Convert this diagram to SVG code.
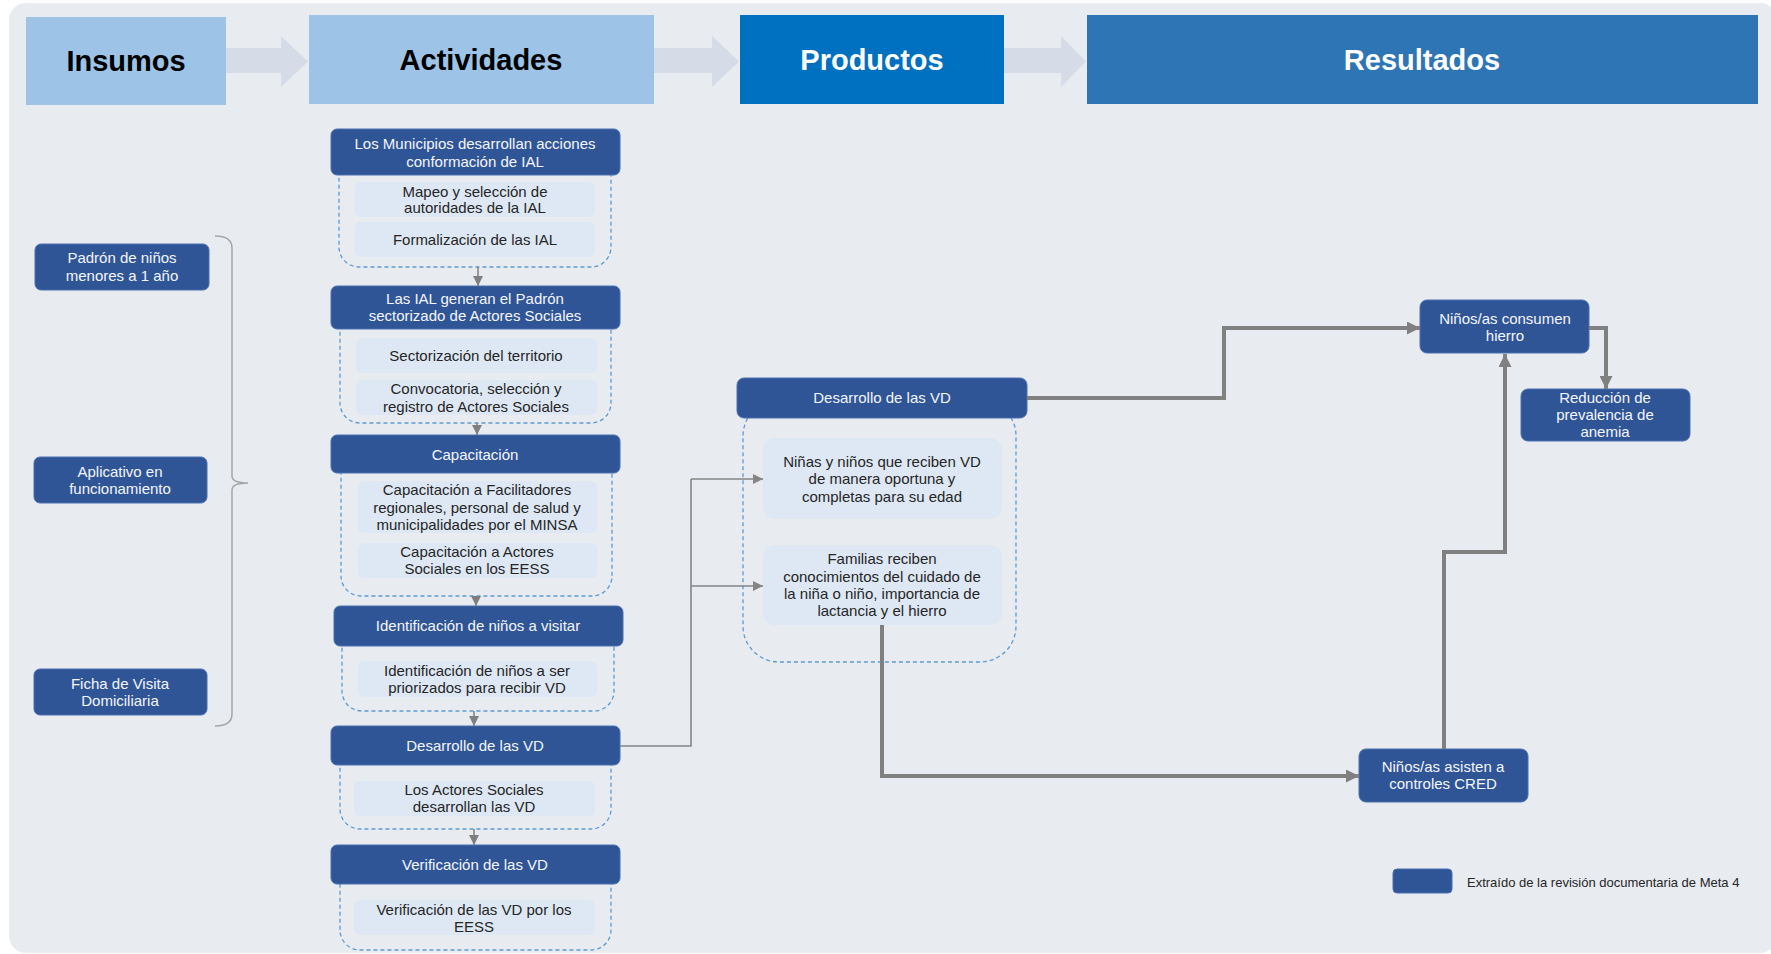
<svg xmlns="http://www.w3.org/2000/svg" width="1771" height="954" viewBox="0 0 1771 954">
  <style>
    text { font-family: "Liberation Sans", Arial, sans-serif; }
    .hdr { font-size: 29px; font-weight: bold; text-anchor: middle; }
    .node rect.box { fill: #2f5597; stroke: #4a70b0; stroke-width: 1; }
    .ntxt { font-size: 15px; fill: #f4f6fa; text-anchor: middle; }
    .sub { fill: #dde8f4; }
    .stxt { font-size: 15px; fill: #262626; text-anchor: middle; }
    .cont { fill: none; stroke: #5b9bd5; stroke-width: 1.3; stroke-dasharray: 4 3; }
    .thin { fill: none; stroke: #858585; stroke-width: 1.6; }
    .thick { fill: none; stroke: #808080; stroke-width: 4; }
    .blk { fill: #d5dce7; }
  </style>
  <defs>
    <marker id="ah" viewBox="0 0 10 10" refX="10" refY="5" markerWidth="10" markerHeight="10" markerUnits="userSpaceOnUse" orient="auto">
      <path d="M0,0 L10,5 L0,10 z" fill="#7f7f7f"/>
    </marker>
    <marker id="ahThin" viewBox="0 0 10 10" refX="10" refY="5" markerWidth="10" markerHeight="10" markerUnits="userSpaceOnUse" orient="auto">
      <path d="M0,0 L10,5 L0,10 z" fill="#858585"/>
    </marker>
    <marker id="ahThick" viewBox="0 0 10 10" refX="10" refY="5" markerWidth="13" markerHeight="13" markerUnits="userSpaceOnUse" orient="auto">
      <path d="M0,0 L10,5 L0,10 z" fill="#808080"/>
    </marker>
  </defs>

  <!-- canvas -->
  <rect x="0" y="0" width="1771" height="954" fill="#ffffff"/>
  <rect x="9" y="3" width="1768" height="950" rx="17" fill="#e8ebf0"/>

  <!-- column headers -->
  <g id="headers">
    <rect x="26" y="17" width="200" height="88" fill="#9dc3e6"/>
    <text class="hdr" x="126" y="71" fill="#000000">Insumos</text>
    <polygon class="blk" points="226,48 281,48 281,36 308,61.5 281,87 281,73 226,73"/>
    <rect x="309" y="15" width="345" height="89" fill="#9dc3e6"/>
    <text class="hdr" x="481" y="70" fill="#000000">Actividades</text>
    <polygon class="blk" points="654,48 712,48 712,36 739,61.5 712,87 712,73 654,73"/>
    <rect x="740" y="15" width="264" height="89" fill="#0070c0"/>
    <text class="hdr" x="872" y="70" fill="#ffffff">Productos</text>
    <polygon class="blk" points="1004,48 1061,48 1061,36 1086,61.5 1061,87 1061,73 1004,73"/>
    <rect x="1087" y="15" width="671" height="89" fill="#2e75b6"/>
    <text class="hdr" x="1422" y="70" fill="#ffffff">Resultados</text>
  </g>

  <!-- inputs -->
  <g id="in-padron" class="node">
    <rect class="box" x="35" y="244" width="174" height="46" rx="6"/>
    <text class="ntxt" x="122" y="263">Padrón de niños</text>
    <text class="ntxt" x="122" y="281">menores a 1 año</text>
  </g>
  <g id="in-aplicativo" class="node">
    <rect class="box" x="34" y="457" width="173" height="46" rx="6"/>
    <text class="ntxt" x="120" y="477">Aplicativo en</text>
    <text class="ntxt" x="120" y="494">funcionamiento</text>
  </g>
  <g id="in-ficha" class="node">
    <rect class="box" x="34" y="669" width="173" height="46" rx="6"/>
    <text class="ntxt" x="120" y="689">Ficha de Visita</text>
    <text class="ntxt" x="120" y="706">Domiciliaria</text>
  </g>
  <path id="brace" d="M215,236 Q232,236 232,248 L232,476 Q232,483 248,483 Q232,483 232,490 L232,714 Q232,726 215,726" fill="none" stroke="#a6a6a6" stroke-width="1.5"/>

  <!-- activities -->
  <g id="act-municipios" class="node">
    <rect class="cont" x="339" y="150" width="272" height="117" rx="20"/>
    <rect class="box" x="331" y="129" width="289" height="46" rx="6"/>
    <text class="ntxt" x="475" y="149">Los Municipios desarrollan acciones</text>
    <text class="ntxt" x="475" y="167">conformación de IAL</text>
    <rect class="sub" x="355" y="182" width="240" height="35" rx="6"/>
    <text class="stxt" x="475" y="197">Mapeo y selección de</text>
    <text class="stxt" x="475" y="213">autoridades de la IAL</text>
    <rect class="sub" x="355" y="222" width="240" height="35" rx="6"/>
    <text class="stxt" x="475" y="245">Formalización de las IAL</text>
  </g>
  <g id="act-padron" class="node">
    <rect class="cont" x="340" y="306" width="271" height="117" rx="20"/>
    <rect class="box" x="331" y="286" width="289" height="43" rx="6"/>
    <text class="ntxt" x="475" y="304">Las IAL generan el Padrón</text>
    <text class="ntxt" x="475" y="321">sectorizado de Actores Sociales</text>
    <rect class="sub" x="356" y="338" width="241" height="35" rx="6"/>
    <text class="stxt" x="476" y="361">Sectorización del territorio</text>
    <rect class="sub" x="356" y="380" width="241" height="35" rx="6"/>
    <text class="stxt" x="476" y="394">Convocatoria, selección y</text>
    <text class="stxt" x="476" y="412">registro de Actores Sociales</text>
  </g>
  <g id="act-capacitacion" class="node">
    <rect class="cont" x="341" y="450" width="271" height="146" rx="20"/>
    <rect class="box" x="331" y="435" width="289" height="38" rx="6"/>
    <text class="ntxt" x="475" y="460">Capacitación</text>
    <rect class="sub" x="358" y="481" width="239" height="52" rx="6"/>
    <text class="stxt" x="477" y="495">Capacitación a Facilitadores</text>
    <text class="stxt" x="477" y="513">regionales, personal de salud y</text>
    <text class="stxt" x="477" y="530">municipalidades por el MINSA</text>
    <rect class="sub" x="358" y="543" width="239" height="35" rx="6"/>
    <text class="stxt" x="477" y="557">Capacitación a Actores</text>
    <text class="stxt" x="477" y="574">Sociales en los EESS</text>
  </g>
  <g id="act-identificacion" class="node">
    <rect class="cont" x="342" y="624" width="272" height="87" rx="20"/>
    <rect class="box" x="334" y="606" width="289" height="40" rx="6"/>
    <text class="ntxt" x="478" y="631">Identificación de niños a visitar</text>
    <rect class="sub" x="358" y="661" width="239" height="36" rx="6"/>
    <text class="stxt" x="477" y="676">Identificación de niños a ser</text>
    <text class="stxt" x="477" y="693">priorizados para recibir VD</text>
  </g>
  <g id="act-desarrollo" class="node">
    <rect class="cont" x="340" y="745" width="271" height="84" rx="20"/>
    <rect class="box" x="331" y="726" width="289" height="39" rx="6"/>
    <text class="ntxt" x="475" y="751">Desarrollo de las VD</text>
    <rect class="sub" x="354" y="781" width="241" height="35" rx="6"/>
    <text class="stxt" x="474" y="795">Los Actores Sociales</text>
    <text class="stxt" x="474" y="812">desarrollan las VD</text>
  </g>
  <g id="act-verificacion" class="node">
    <rect class="cont" x="340" y="864" width="271" height="86" rx="20"/>
    <rect class="box" x="331" y="845" width="289" height="39" rx="6"/>
    <text class="ntxt" x="475" y="870">Verificación de las VD</text>
    <rect class="sub" x="354" y="900" width="241" height="35" rx="6"/>
    <text class="stxt" x="474" y="915">Verificación de las VD por los</text>
    <text class="stxt" x="474" y="932">EESS</text>
  </g>

  <!-- products -->
  <g id="prod-desarrollo" class="node">
    <rect class="cont" x="743" y="400" width="273" height="262" rx="36"/>
    <rect class="box" x="737" y="378" width="290" height="40" rx="7"/>
    <text class="ntxt" x="882" y="403">Desarrollo de las VD</text>
    <rect class="sub" x="763" y="438" width="239" height="81" rx="12"/>
    <text class="stxt" x="882" y="467">Niñas y niños que reciben VD</text>
    <text class="stxt" x="882" y="484">de manera oportuna y</text>
    <text class="stxt" x="882" y="502">completas para su edad</text>
    <rect class="sub" x="763" y="545" width="239" height="80" rx="12"/>
    <text class="stxt" x="882" y="564">Familias reciben</text>
    <text class="stxt" x="882" y="582">conocimientos del cuidado de</text>
    <text class="stxt" x="882" y="599">la niña o niño, importancia de</text>
    <text class="stxt" x="882" y="616">lactancia y el hierro</text>
  </g>

  <!-- results -->
  <g id="res-hierro" class="node">
    <rect class="box" x="1420" y="300" width="169" height="53" rx="7"/>
    <text class="ntxt" x="1505" y="324">Niños/as consumen</text>
    <text class="ntxt" x="1505" y="341">hierro</text>
  </g>
  <g id="res-anemia" class="node">
    <rect class="box" x="1521" y="389" width="169" height="52" rx="7"/>
    <text class="ntxt" x="1605" y="403">Reducción de</text>
    <text class="ntxt" x="1605" y="420">prevalencia de</text>
    <text class="ntxt" x="1605" y="437">anemia</text>
  </g>
  <g id="res-cred" class="node">
    <rect class="box" x="1359" y="749" width="169" height="53" rx="7"/>
    <text class="ntxt" x="1443" y="772">Niños/as asisten a</text>
    <text class="ntxt" x="1443" y="789">controles CRED</text>
  </g>

  <!-- connectors -->
  <g id="connectors">
    <line class="thin" x1="478" y1="267" x2="478" y2="286" marker-end="url(#ah)"/>
    <line class="thin" x1="477" y1="423" x2="477" y2="435" marker-end="url(#ah)"/>
    <line class="thin" x1="476" y1="596" x2="476" y2="606" marker-end="url(#ah)"/>
    <line class="thin" x1="474" y1="711" x2="474" y2="726" marker-end="url(#ah)"/>
    <line class="thin" x1="474" y1="829" x2="474" y2="845" marker-end="url(#ah)"/>
    <path class="thin" d="M620,746 L691,746 L691,479"/>
    <path class="thin" d="M691,479 L763,479" marker-end="url(#ahThin)"/>
    <path class="thin" d="M691,586 L763,586" marker-end="url(#ahThin)"/>
    <path class="thick" d="M1027,398 L1224,398 L1224,328 L1420,328" marker-end="url(#ahThick)"/>
    <path class="thick" d="M1589,328 L1606,328 L1606,389" marker-end="url(#ahThick)"/>
    <path class="thick" d="M1444,749 L1444,552 L1505,552 L1505,354" marker-end="url(#ahThick)"/>
    <path class="thick" d="M882,625 L882,776 L1359,776" marker-end="url(#ahThick)"/>
  </g>

  <!-- legend -->
  <g id="legend">
    <rect x="1393" y="869" width="59" height="24" rx="4" fill="#2f5597" stroke="#4a70b0" stroke-width="1"/>
    <text x="1467" y="887" font-size="13" fill="#262626">Extraído de la revisión documentaria de Meta 4</text>
  </g>
</svg>
